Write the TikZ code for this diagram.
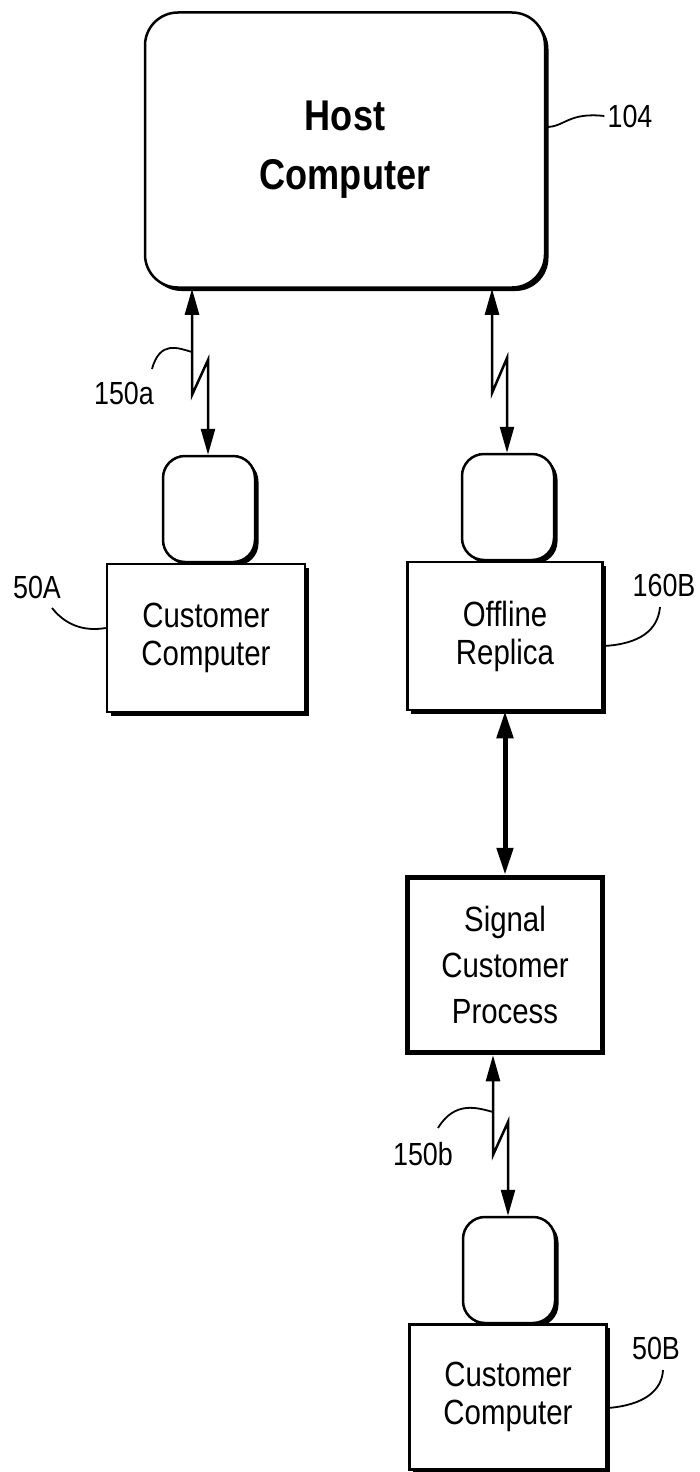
\documentclass[tikz,border=0pt]{standalone}
\usepackage{fontspec}
\setmainfont{Liberation Sans}[FakeStretch=0.84]
\usepackage{tikz}
\usetikzlibrary{arrows.meta,shadows}

\begin{document}
\begin{tikzpicture}[x=1pt,y=-1pt,
    blk/.style={draw, fill=white, line width=2.5pt, inner sep=0pt, align=center,
      font=\fontsize{35pt}{38pt}\selectfont},
    box/.style={blk, drop shadow={shadow xshift=3.5pt, shadow yshift=-3.5pt, opacity=1, fill=black}},
    term/.style={box, rounded corners=22pt, minimum width=92pt, minimum height=106pt},
    link/.style={line width=2.5pt, {Triangle[length=26pt,width=14pt]}-{Triangle[length=26pt,width=14pt]}},
    lead/.style={line width=1.8pt},
    tag/.style={font=\fontsize{32pt}{34pt}\selectfont, inner sep=3pt}]
    \useasboundingbox (0,0) rectangle (700,1472);
    % Host
    \node[box, rounded corners=33pt, minimum width=400pt, minimum height=275pt,
      font=\bfseries\fontsize{43pt}{59pt}\selectfont] (host) at (345,150) {Host\\Computer};
    % Customer A
    \node[term] (termA) at (209,509) {};
    \node[box, minimum width=198pt, minimum height=148pt] (custA) at (206,638) {Customer\\Computer};
    % Replica
    \node[term] (termR) at (508,507) {};
    \node[box, minimum width=195pt, minimum height=148pt] (replica) at (505,636) {Offline\\Replica};
    \node[blk, line width=5.5pt, minimum width=195pt, minimum height=175pt,
      font=\fontsize{35pt}{46pt}\selectfont] (signal) at (505,965) {Signal\\Customer\\Process};
    % Customer B
    \node[term] (termB) at (509,1270) {};
    \node[box, minimum width=197pt, minimum height=145pt] (custB) at (508,1397) {Customer\\Computer};
    %
    % Links
    \coordinate (a1) at (192,395);
    \coordinate (a2) at (208,360);
    \draw[link] (host.south -| a1) -- (a1) -- (a2) -- (termA.north -| a2);
    \coordinate (r1) at (492,393);
    \coordinate (r2) at (507,358);
    \draw[link] (host.south -| r1) -- (r1) -- (r2) -- (termR.north -| r2);
    \draw[link, line width=5pt, {Triangle[length=27pt,width=16pt]}-{Triangle[length=27pt,width=16pt]}]
      (replica.south) -- (signal.north);
    \coordinate (b1) at (493,1155);
    \coordinate (b2) at (508,1122);
    \draw[link] (signal.south -| b1) -- (b1) -- (b2) -- (termB.north -| b2);
    %
    % Reference numerals
    \node[tag] (l104) at (630,116) {104};
    \draw[lead] (host.east |- 0,127) .. controls (565,127) and (568,112) .. (l104.west);
    \node[tag] (l150a) at (124,393) {150a};
    \coordinate (e150a) at (152,369);
    \draw[lead] (a1 |- 0,352) .. controls (178,348) and (160,340) .. (e150a);
    \node[tag] (l50A) at (37,587) {50A};
    \coordinate (e50A) at (52,608);
    \draw[lead] (custA.west |- 0,628) .. controls (88,631) and (68,628) .. (e50A);
    \node[tag] (l160B) at (664,585) {160B};
    \coordinate (e160B) at (660,607);
    \draw[lead] (replica.east |- 0,646) .. controls (640,644) and (658,630) .. (e160B);
    \node[tag] (l150b) at (423,1154) {150b};
    \coordinate (e150b) at (438,1128);
    \draw[lead] (b1 |- 0,1112) .. controls (478,1108) and (455,1100) .. (e150b);
    \node[tag] (l50B) at (656,1348) {50B};
    \coordinate (e50B) at (663,1370);
    \draw[lead] (custB.east |- 0,1408) .. controls (645,1405) and (662,1390) .. (e50B);
\end{tikzpicture}
\end{document}
